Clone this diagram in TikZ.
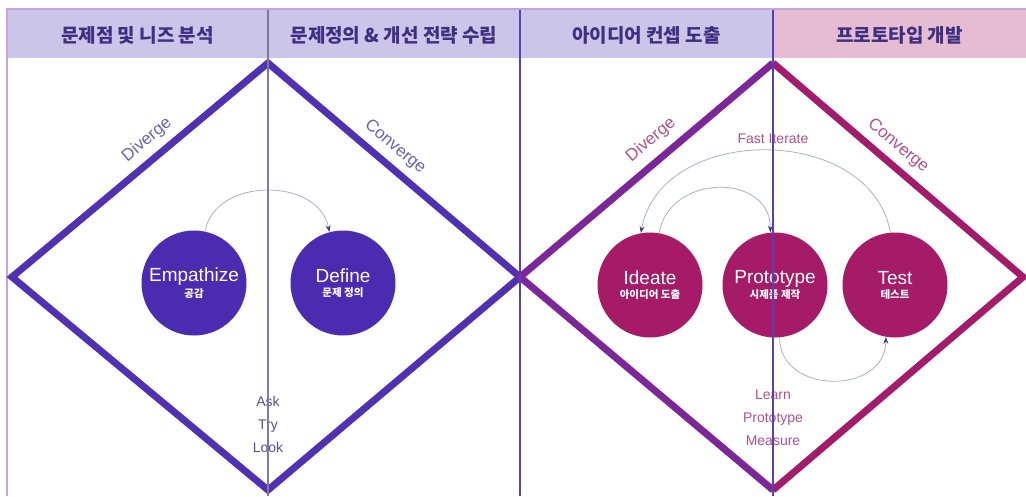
\documentclass[tikz,border=0pt]{standalone}
\usepackage{fontspec}
\setmainfont{Liberation Sans}
\newfontfamily\kr{Noto Sans CJK KR}
\usetikzlibrary{arrows.meta}
\definecolor{headblue}{HTML}{CBC5EA}
\definecolor{headpink}{HTML}{E6BCD3}
\definecolor{headtext}{HTML}{3E2F80}
\definecolor{frameline}{HTML}{C9A3DC}
\definecolor{leftdia}{HTML}{5230B2}
\definecolor{rightdiaA}{HTML}{7C2699}
\definecolor{rightdiaB}{HTML}{A31C6C}
\definecolor{bluedot}{HTML}{4B2BAF}
\definecolor{pinkdot}{HTML}{A51B68}
\definecolor{bluelabel}{HTML}{6A61B4}
\definecolor{pinklabel}{HTML}{B0508A}
\definecolor{arcline}{HTML}{A9AFCB}
\definecolor{tipcol}{HTML}{3A3F8A}
\definecolor{midline}{HTML}{7F78A6}
\definecolor{rightline}{HTML}{5A3EB8}
\begin{document}
\begin{tikzpicture}[x=1pt,y=-1pt,
    head/.style={font=\kr\bfseries\fontsize{19}{21}\selectfont,text=headtext},
    stage/.style={circle,minimum size=105pt,inner sep=0pt,align=center,text=white},
    flow/.style={arcline,line width=0.8pt,-{Stealth[length=7pt,width=5pt,color=tipcol]}},
    side/.style={font=\fontsize{17}{19}\selectfont},
    note/.style={font=\fontsize{14}{23}\selectfont,align=center}]
    \useasboundingbox (0,0) rectangle (1026,496);

    \fill[headblue] (7,10) rectangle (773,58);
    \fill[headpink] (773,10) rectangle (1026,58);
    \draw[frameline,line width=1.5pt] (7,496)--(7,9)--(1026,9);

    \node[head] (h1) at (137.5,35) {문제점 및 니즈 분석};
    \node[head] (h2) at (394,35) {문제정의 \& 개선 전략 수립};
    \node[head] (h3) at (646.5,35) {아이디어 컨셉 도출};
    \node[head] (h4) at (899.5,35) {프로토타입 개발};

    \draw[leftdia,line width=7pt] (268,63)--(12,277)--(268,490)--(520,277)--cycle;
    \draw[rightdiaA,line width=7pt] (773,63)--(520,277)--(773,490);
    \draw[rightdiaB,line width=7pt] (773,63)--(1023,277)--(773,490);

    \node[side,text=bluelabel,rotate=40] (div1) at (147,140) {Diverge};
    \node[side,text=bluelabel,rotate=-40] (con1) at (395,147) {Converge};
    \node[side,text=pinklabel,rotate=40] (div2) at (651,140) {Diverge};
    \node[side,text=pinklabel,rotate=-40] (con2) at (898,146) {Converge};

    \node[stage,fill=bluedot] (empathize) at (194,283)
        {{\fontsize{19}{22}\selectfont Empathize}\\[2pt]{\kr\bfseries\fontsize{10.5}{12}\selectfont 공감}};
    \node[stage,fill=bluedot] (define) at (343,283)
        {{\fontsize{19}{22}\selectfont Define}\\[2pt]{\kr\bfseries\fontsize{10.5}{12}\selectfont 문제 정의}};
    \node[stage,fill=pinkdot] (ideate) at (650,285)
        {{\fontsize{19}{22}\selectfont Ideate}\\[2pt]{\kr\bfseries\fontsize{10.5}{12}\selectfont 아이디어 도출}};
    \node[stage,fill=pinkdot] (prototype) at (775,285)
        {{\fontsize{19}{22}\selectfont Prototype}\\[2pt]{\kr\bfseries\fontsize{10.5}{12}\selectfont 시제품 제작}};
    \node[stage,fill=pinkdot] (test) at (895,285)
        {{\fontsize{19}{22}\selectfont Test}\\[2pt]{\kr\bfseries\fontsize{10.5}{12}\selectfont 테스트}};

    \draw[flow] (empathize.78) .. controls +(10,-55) and +(-10,-55) .. (define.105);
    \draw[flow] (test.95) .. controls +(-20,-110) and +(20,-110) .. (ideate.100);
    \draw[flow] (ideate.80) .. controls +(10,-60) and +(0,-60) .. (prototype.95);
    \draw[flow] (prototype.-85) .. controls +(0,58) and +(0,58) .. (test.-100);

    \node[note,text=pinklabel] (fast) at (773,139) {Fast Iterate};
    \node[note,text=bluelabel!80!black] (ask) at (268,424) {Ask\\Try\\Look};
    \node[note,text=pinklabel] (learn) at (773,418) {Learn\\Prototype\\Measure};

    \draw[midline,line width=1.2pt] (268,10)--(268,496);
    \draw[rightline,line width=1.2pt] (520,10)--(520,496);
    \draw[rightline,line width=1.2pt] (773,10)--(773,496);

\end{tikzpicture}
\end{document}
